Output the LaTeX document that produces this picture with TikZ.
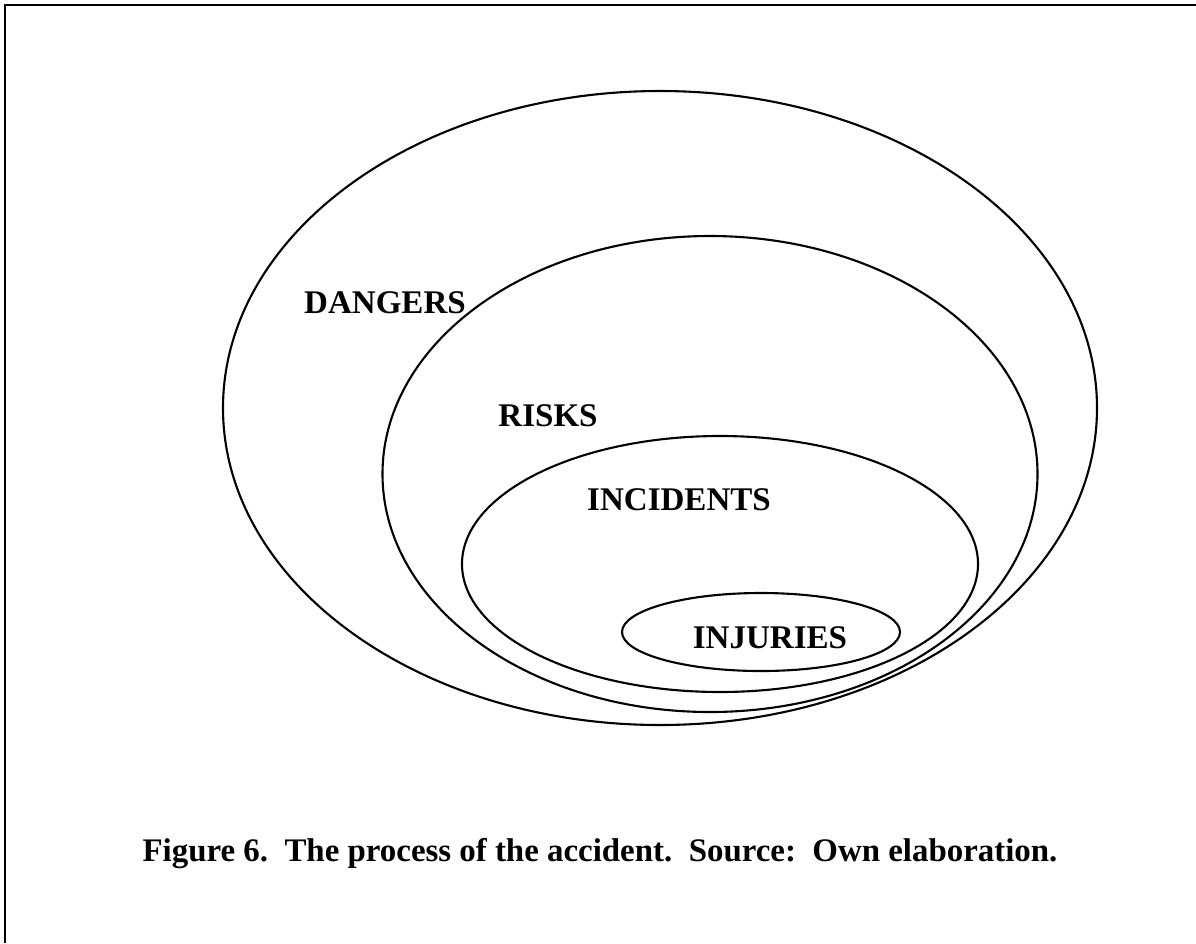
\documentclass[tikz,border=0pt]{standalone}
\usepackage{fontspec}
\setmainfont{Liberation Serif}
\tikzset{
    setlabel/.style={font=\bfseries\fontsize{23.5}{28}\selectfont, inner sep=0pt, anchor=base},
    capt/.style={font=\bfseries\fontsize{23.4}{28}\selectfont, inner sep=0pt, anchor=base},
    ring/.style={line width=1.5pt}
}
\begin{document}
\begin{tikzpicture}[x=0.025cm, y=0.025cm]
            \useasboundingbox (0, 0) rectangle (1196, -943);

            \draw[line width=1.6pt](5, -943) -- (5, -5) -- (1196, -5);

            \draw[ring](660, -408) ellipse [x radius=437, y radius=317];
            \draw[ring](710, -474) ellipse [x radius=327.5, y radius=238];
            \draw[ring](720, -564) ellipse [x radius=258, y radius=128];
            \draw[ring](761, -632) ellipse [x radius=139, y radius=39];

            \node[setlabel] at(385, -313)(dangers){DANGERS};
            \node[setlabel] at(548, -426)(risks){RISKS};
            \node[setlabel] at(679, -510)(incidents){INCIDENTS};
            \node[setlabel] at(770, -648)(injuries){INJURIES};

            \node[capt] at(600, -861)(caption){Figure 6.\ \ The process of the accident.\ \ Source:\ \ Own elaboration.};
\end{tikzpicture}
\end{document}
